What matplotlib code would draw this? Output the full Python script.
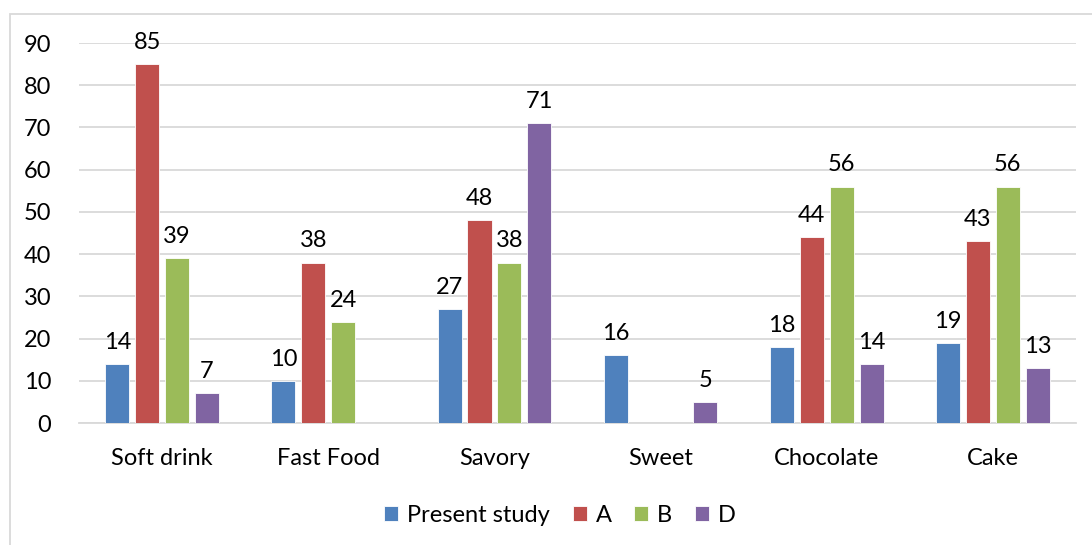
import numpy as np
import matplotlib
matplotlib.use("Agg")
import matplotlib.pyplot as plt
from matplotlib.patches import Rectangle

plt.rcParams['font.family'] = ['Lato', 'DejaVu Sans']

categories = ["Soft drink", "Fast Food", "Savory", "Sweet", "Chocolate", "Cake"]
present_study = [14, 10, 27, 16, 18, 19]
study_a = [85, 38, 48, None, 44, 43]
study_b = [39, 24, 38, None, 56, 56]
study_d = [7, None, 71, 5, 14, 13]
series_names = ["Present study", "A", "B", "D"]
colors = ["#4F81BD", "#C0504D", "#9BBB59", "#8064A2"]
y_ticks = [0, 10, 20, 30, 40, 50, 60, 70, 80, 90]

FS = 17

fig = plt.figure(figsize=(10.92, 5.45), dpi=100)
fig.patch.set_facecolor("white")

# outer chart border
fig.add_artist(Rectangle((10 / 1092, -0.1), 1.2, (545 - 14) / 545 + 0.1,
                         transform=fig.transFigure, fill=False,
                         edgecolor="#D9D9D9", linewidth=1.3))

ax = fig.add_axes([79 / 1092, 1 - 423 / 545, (1076 - 79) / 1092, 380 / 545])

x = np.arange(len(categories))
step = 0.18
width = 0.145
all_series = [present_study, study_a, study_b, study_d]

for i, (vals, name, col) in enumerate(zip(all_series, series_names, colors)):
    pos = x + (i - 1.5) * step
    heights = [np.nan if v is None else v for v in vals]
    ax.bar(pos, heights, width=width, color=col, label=name,
           edgecolor="white", linewidth=0.6, zorder=3)
    for p, v in zip(pos, vals):
        if v is None:
            continue
        ax.annotate(str(v), (p, v), xytext=(0, 8), textcoords="offset points",
                    ha="center", va="bottom", fontsize=FS, color="black")

ax.set_xlim(-0.5, len(categories) - 0.5)
ax.set_ylim(0, 90)
ax.set_yticks(y_ticks)
ax.set_xticks(x)
ax.set_xticklabels(categories)
ax.tick_params(axis="both", length=0, labelsize=FS, colors="black")
ax.tick_params(axis="x", pad=18)
ax.tick_params(axis="y", pad=20)
ax.grid(axis="y", color="#D9D9D9", linewidth=1.3, zorder=0)
for side in ["top", "right", "left"]:
    ax.spines[side].set_visible(False)
ax.spines["bottom"].set_color("#D9D9D9")
ax.spines["bottom"].set_linewidth(1.3)
ax.set_axisbelow(True)

ax.legend(loc="center", bbox_to_anchor=((560 - 79) / 997, (423 - 515) / 380),
          ncol=4, frameon=False, fontsize=FS, handlelength=0.6, handleheight=0.6,
          handletextpad=0.38, columnspacing=0.95)

fig.savefig("out.png", dpi=100, facecolor="white")
